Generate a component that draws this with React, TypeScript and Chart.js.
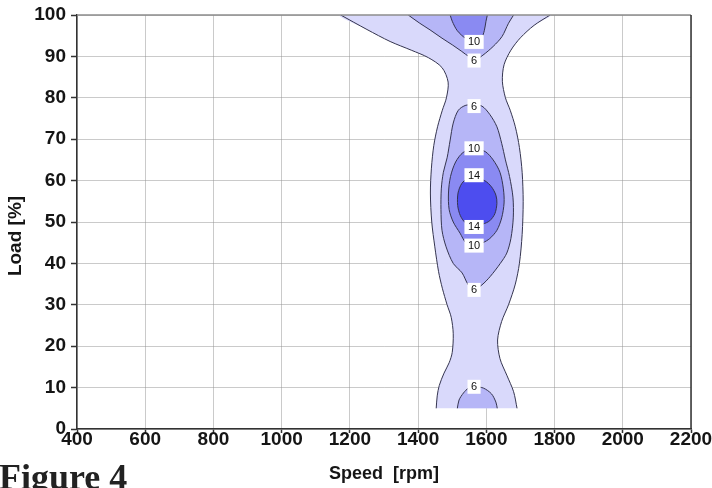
import { useEffect, useRef } from 'react';
import { Chart, registerables } from 'chart.js';

Chart.register(...registerables);

// ---- axes ----
const X_MIN = 400;
const X_MAX = 2200;
const X_STEP = 200;
const Y_MIN = 0;
const Y_MAX = 100;
const Y_STEP = 10;

// ---- contour lines, [speed rpm, load %] ----
// outermost (unlabelled) contour, left branch bottom -> top
const outerLeft: [number, number][] = [
  [1453, 5], [1456, 8], [1462, 10.5], [1476, 13.5], [1491, 16], [1500, 18.5], [1503, 23], [1497, 27],
  [1485, 30], [1471, 34], [1460, 38], [1449, 44], [1440, 50], [1436, 57], [1439, 63], [1446, 68.5],
  [1457, 73], [1471, 77], [1483, 80], [1488, 83.8], [1470, 87.3], [1430, 89.7], [1380, 91.5],
  [1318, 93.6], [1250, 96.5], [1173, 100],
];
// outermost contour, right branch top -> bottom
const outerRight: [number, number][] = [
  [1787, 100], [1740, 97.5], [1700, 94.5], [1672, 91.5], [1652, 88], [1647, 84], [1656, 80],
  [1670, 77], [1685, 73], [1697, 68], [1705, 62], [1708, 55], [1705, 47], [1697, 40], [1685, 35],
  [1665, 30], [1645, 26], [1633, 21.5], [1640, 17], [1660, 13], [1680, 9], [1690, 5],
];
// level 6, upper region
const top6: [number, number][] = [
  [1371, 100], [1405, 98], [1435, 96.4], [1470, 94.4], [1500, 92.8], [1528, 91.2], [1550, 89.9],
  [1570, 89.3], [1590, 90.3], [1620, 92.4], [1646, 94.8], [1665, 98], [1680, 100],
];
// level 10, upper region
const top10: [number, number][] = [
  [1494, 100], [1500, 98.5], [1515, 96.2], [1540, 94.3], [1565, 93.5], [1585, 94.3], [1594, 96.2],
  [1599, 98.5], [1603, 100],
];
// level 6, middle island
const mid6: [number, number][] = [
  [1563, 78.2], [1587, 78], [1610, 76], [1631, 73], [1645, 69], [1656, 65], [1668, 61], [1678, 56],
  [1679, 51], [1672, 46], [1660, 42.5], [1641, 40], [1611, 36.8], [1587, 34.8], [1563, 33.6],
  [1547, 34.8], [1529, 37.7], [1503, 40], [1482, 44], [1470, 48], [1467, 53], [1468, 58], [1474, 62],
  [1485, 65.5], [1494, 69.8], [1503, 73.9], [1518, 77], [1540, 78.2], [1563, 78.2],
];
// level 10, middle island
const mid10: [number, number][] = [
  [1565, 67.8], [1597, 67], [1620, 65], [1640, 62], [1650, 58], [1652, 54.6], [1645, 51], [1631, 48],
  [1610, 46], [1590, 45], [1565, 44.2], [1540, 45], [1523, 47.3], [1503, 50], [1491, 53], [1489, 57],
  [1495, 61], [1510, 64.5], [1532, 66.8], [1565, 67.8],
];
// level 14, core
const core14: [number, number][] = [
  [1565, 60.7], [1595, 60], [1615, 58.5], [1628, 56.5], [1631, 54.5], [1625, 52], [1610, 50.3],
  [1590, 49.5], [1565, 49], [1540, 49.7], [1524, 51.5], [1516, 54], [1517, 57], [1528, 59.3],
  [1545, 60.5], [1565, 60.7],
];
// level 6, bottom region
const bottom6: [number, number][] = [
  [1515, 5], [1520, 7], [1533, 8.7], [1548, 9.9], [1565, 10.2], [1591, 9.9], [1615, 8.5],
  [1628, 6.5], [1632, 5],
];

// ---- contour labels ----
const labelX = [1564, 1564, 1564, 1564, 1564, 1564, 1564, 1564, 1564];
const labelY = [93.5, 89, 78, 67.8, 61.3, 48.8, 44.3, 33.6, 10.2];
const labelText = ['10', '6', '6', '10', '14', '14', '10', '6', '6'];

const X_TITLE = 'Speed  [rpm]';
const Y_TITLE = 'Load [%]';
const FIG_TITLE = 'Figure 4';

// ---- styles ----
const FONT = '"Liberation Sans", Arial, Helvetica, sans-serif';
const TEXT = '#151515';
const AXIS = '#333333';
const GRID = 'rgba(150,150,150,0.5)';
const LINE = '#34344f';
const C_OUTER = '#d9d9fb';
const C_6 = '#b6b6f7';
const C_10 = '#8a8af2';
const C_14 = '#4d4def';

const toPts = (arr: [number, number][]) => arr.map(([x, y]) => ({ x, y }));

const ds = (pts: [number, number][], fillColor: string | null, stroke: boolean) => ({
  data: toPts(pts),
  showLine: true,
  fill: fillColor ? 'shape' : false,
  backgroundColor: fillColor || 'rgba(0,0,0,0)',
  borderColor: stroke ? LINE : 'rgba(0,0,0,0)',
  borderWidth: 1,
  pointRadius: 0,
  pointHoverRadius: 0,
  tension: 0.3,
});

const overlay = {
  id: 'overlay',
  afterDraw(chart: any) {
    const { ctx, chartArea: a, scales } = chart;
    const xs = scales.x;
    const ys = scales.y;
    ctx.save();
    ctx.lineWidth = 1.5;
    ctx.strokeStyle = '#8c8c8c';
    ctx.beginPath();
    ctx.moveTo(a.left, a.top);
    ctx.lineTo(a.right, a.top);
    ctx.stroke();
    ctx.strokeStyle = AXIS;
    ctx.beginPath();
    ctx.moveTo(a.right, a.top);
    ctx.lineTo(a.right, a.bottom);
    ctx.stroke();

    ctx.font = `11px ${FONT}`;
    ctx.textAlign = 'center';
    ctx.textBaseline = 'middle';
    for (let i = 0; i < labelText.length; i++) {
      const px = xs.getPixelForValue(labelX[i]);
      const py = ys.getPixelForValue(labelY[i]);
      const w = ctx.measureText(labelText[i]).width + 7;
      const h = 14;
      ctx.fillStyle = '#ffffff';
      ctx.fillRect(px - w / 2, py - h / 2, w, h);
      ctx.fillStyle = '#111111';
      ctx.fillText(labelText[i], px, py + 0.5);
    }

    ctx.translate(16, 236);
    ctx.rotate(-Math.PI / 2);
    ctx.font = `bold 19px ${FONT}`;
    ctx.fillStyle = TEXT;
    ctx.fillText(Y_TITLE, 0, 0);
    ctx.restore();
  },
};

export default function App() {
  const ref = useRef<HTMLCanvasElement | null>(null);

  useEffect(() => {
    if (!ref.current) return;
    const chart = new Chart(ref.current, {
      type: 'line',
      data: {
        datasets: [
          ds(core14, C_14, true),
          ds(mid10, C_10, true),
          ds(top10, C_10, true),
          ds(mid6, C_6, true),
          ds(top6, C_6, true),
          ds(bottom6, C_6, true),
          ds(outerLeft, null, true),
          ds(outerRight, null, true),
          ds([...outerLeft, ...outerRight], C_OUTER, false),
        ] as any,
      },
      options: {
        animation: false,
        responsive: false,
        events: [],
        layout: { padding: { top: 15, right: 21, left: 0, bottom: 0 } },
        plugins: { legend: { display: false }, tooltip: { enabled: false } },
        scales: {
          x: {
            type: 'linear',
            min: X_MIN,
            max: X_MAX,
            z: 1,
            afterFit: (s: any) => { s.height = 59; },
            ticks: {
              stepSize: X_STEP,
              autoSkip: false,
              maxRotation: 0,
              color: TEXT,
              padding: -3,
              callback: (v: any) => String(v),
              font: { family: FONT, size: 19, weight: 'bold', lineHeight: 1 },
            },
            grid: { color: GRID, lineWidth: 1, tickColor: AXIS, tickLength: 4, tickWidth: 1.5 },
            border: { color: AXIS, width: 1.5 },
            title: {
              display: true,
              text: X_TITLE,
              color: TEXT,
              font: { family: FONT, size: 18, weight: 'bold', lineHeight: 1.2 },
              padding: { top: 0, bottom: 3 },
            },
          },
          y: {
            type: 'linear',
            min: Y_MIN,
            max: Y_MAX,
            z: 1,
            afterFit: (s: any) => { s.width = 77; },
            ticks: {
              stepSize: Y_STEP,
              color: TEXT,
              padding: 5,
              callback: (v: any) => String(v),
              font: { family: FONT, size: 19, weight: 'bold', lineHeight: 1 },
            },
            grid: { color: GRID, lineWidth: 1, tickColor: AXIS, tickLength: 6, tickWidth: 1.5 },
            border: { color: AXIS, width: 1.5 },
          },
        },
      } as any,
      plugins: [overlay],
    });
    return () => chart.destroy();
  }, []);

  return (
    <div
      style={{
        position: 'fixed',
        left: 0,
        top: 0,
        width: 712,
        height: 488,
        overflow: 'hidden',
        background: '#ffffff',
      }}
    >
      <canvas ref={ref} width={712} height={488} style={{ display: 'block' }} />
      <div
        style={{
          position: 'absolute',
          left: -1,
          top: 459,
          fontFamily: '"Liberation Serif", "Times New Roman", serif',
          fontWeight: 'bold',
          fontSize: 36,
          lineHeight: '36px',
          color: '#222222',
          whiteSpace: 'nowrap',
        }}
      >
        {FIG_TITLE}
      </div>
    </div>
  );
}
